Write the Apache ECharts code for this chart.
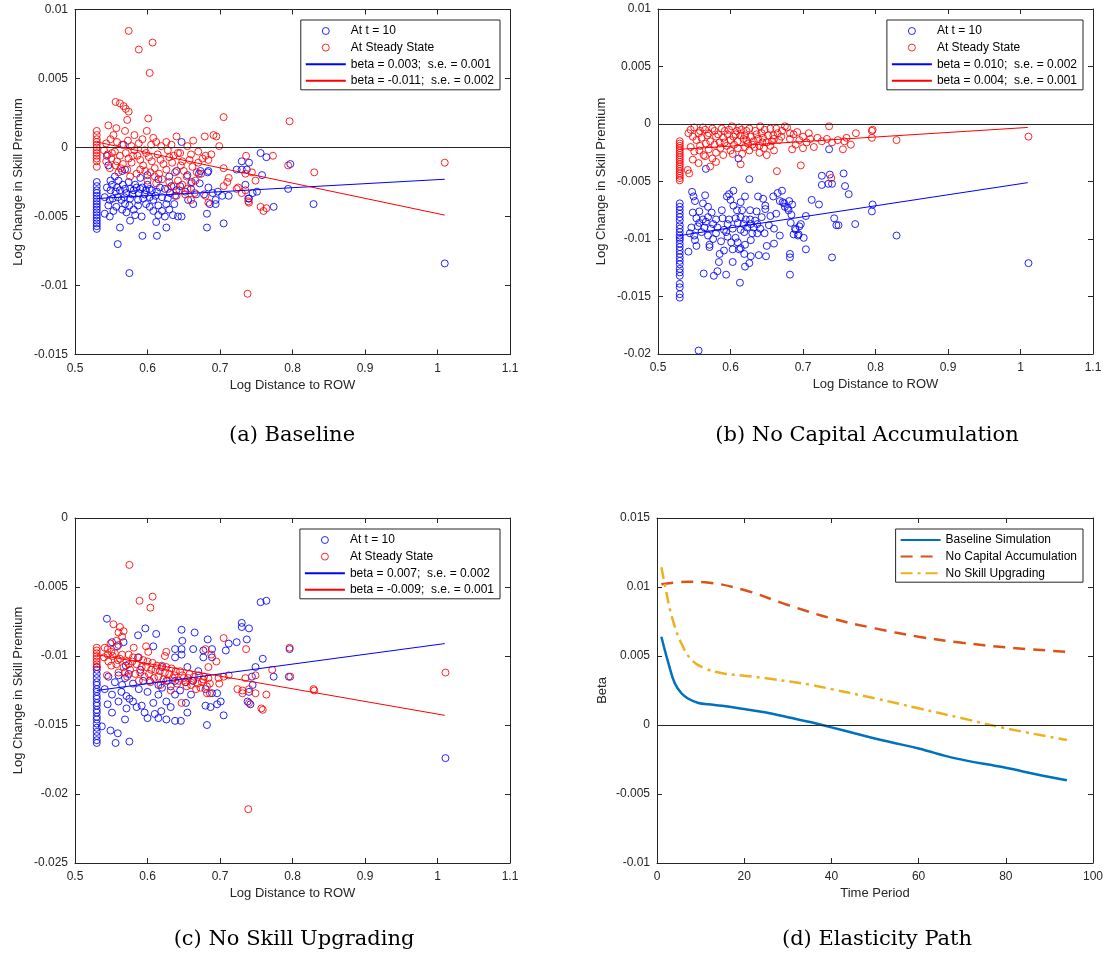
<!DOCTYPE html>
<html>
<head>
<meta charset="utf-8">
<script src="https://cdn.jsdelivr.net/npm/echarts@6/dist/echarts.min.js"></script>
<style>
  html, body { margin: 0; padding: 0; background: #fff; }
  #chart { width: 1108px; height: 961px; }
</style>
</head>
<body>
<div id="chart"></div>
<script>
// ---- data: [log distance, log change] ----
const baseT10 = [
  [0.53,-0.0025],[0.53,-0.0028],[0.53,-0.0031],[0.53,-0.0033],[0.53,-0.0035],[0.53,-0.0037],[0.53,-0.0039],[0.53,-0.0041],
  [0.53,-0.0043],[0.53,-0.0045],[0.53,-0.0047],[0.53,-0.0049],[0.53,-0.0051],[0.53,-0.0053],[0.53,-0.0055],[0.53,-0.0057],[0.53,-0.0059],
  [0.567,0.0002],[0.544,-0.0006],[0.546,-0.0013],[0.569,-0.0016],[0.565,-0.0017],[0.555,-0.0021],[0.549,-0.0024],[0.560,-0.0024],
  [0.544,-0.0029],[0.549,-0.0031],[0.556,-0.0032],[0.562,-0.0031],[0.569,-0.003],[0.574,-0.0025],[0.576,-0.003],[0.581,-0.0031],
  [0.585,-0.0029],[0.590,-0.003],[0.593,-0.0029],[0.598,-0.0031],[0.603,-0.003],[0.606,-0.0031],[0.613,-0.0032],
  [0.541,-0.0036],[0.548,-0.0038],[0.552,-0.0037],[0.559,-0.0036],[0.564,-0.0038],[0.568,-0.0036],[0.576,-0.0037],[0.587,-0.0038],
  [0.594,-0.0037],[0.603,-0.0036],[0.611,-0.0035],
  [0.546,-0.0042],[0.557,-0.0043],[0.569,-0.0041],[0.575,-0.0042],[0.587,-0.0042],[0.603,-0.0043],[0.615,-0.0042],[0.626,-0.0041],[0.637,-0.0041],
  [0.541,-0.0048],[0.548,-0.005],[0.571,-0.0047],[0.583,-0.0049],[0.592,-0.005],[0.615,-0.0049],[0.624,-0.005],[0.635,-0.0049],[0.642,-0.005],[0.647,-0.005],
  [0.562,-0.0058],[0.576,-0.0053],[0.612,-0.0054],[0.626,-0.0058],[0.593,-0.0064],[0.613,-0.0064],[0.559,-0.007],[0.575,-0.0091],
  [0.624,-0.003],[0.631,-0.0033],[0.638,-0.0035],[0.645,-0.0028],[0.652,-0.0032],[0.660,-0.003],[0.667,-0.0034],
  [0.661,-0.0025],[0.671,-0.0019],[0.683,-0.0018],
  [0.551,-0.0027],[0.558,-0.0029],[0.566,-0.0027],[0.571,-0.0033],[0.579,-0.0034],[0.583,-0.0027],[0.588,-0.0033],[0.596,-0.0034],
  [0.600,-0.0027],[0.608,-0.0038],[0.617,-0.0029],[0.620,-0.0036],[0.628,-0.0037],[0.633,-0.0028],[0.640,-0.0031],[0.598,-0.0041],
  [0.581,-0.0045],[0.565,-0.0045],[0.553,-0.0046],[0.608,-0.0046],[0.620,-0.0046],[0.630,-0.0045],[0.656,-0.0038],[0.663,-0.0041],
  [0.672,-0.0026],[0.678,-0.0034],[0.590,-0.0022],[0.600,-0.002],[0.615,-0.0023],[0.630,-0.0021],[0.640,-0.0017],[0.655,-0.002],
  [0.647,0.0004],[0.756,-0.0004],[0.764,-0.0007],[0.730,-0.001],[0.740,-0.0011],[0.797,-0.0012],[0.723,-0.0016],[0.730,-0.0016],
  [0.737,-0.0016],[0.673,-0.0017],[0.684,-0.0017],[0.758,-0.002],[0.735,-0.0027],[0.745,-0.0033],[0.740,-0.0037],[0.794,-0.003],
  [0.829,-0.0041],[0.774,-0.0043],[0.684,-0.0029],[0.690,-0.0033],[0.697,-0.0032],[0.703,-0.0035],[0.694,-0.0038],[0.686,-0.0041],
  [0.694,-0.0041],[0.682,-0.0048],[0.682,-0.0058],[0.705,-0.0055],[0.712,-0.0035],[0.751,-0.0032],[0.739,-0.0037],[1.01,-0.0084]
];
const baseSteady = [
  [0.574,0.00845],[0.607,0.0076],[0.588,0.0071],[0.603,0.0054],
  [0.556,0.0033],[0.562,0.0032],[0.567,0.003],[0.570,0.0028],[0.574,0.0026],[0.572,0.002],[0.601,0.0021],[0.705,0.0022],[0.796,0.0019],
  [0.53,0.0012],[0.53,0.0009],[0.53,0.0006],[0.53,0.0004],[0.53,0.0002],[0.53,0.0],[0.53,-0.0002],[0.53,-0.0004],
  [0.53,-0.0006],[0.53,-0.0008],[0.53,-0.001],[0.53,-0.0014],
  [0.546,0.0016],[0.557,0.0014],[0.569,0.0012],[0.582,0.0009],[0.599,0.0012],[0.608,0.0007],[0.626,0.0004],[0.663,0.0005],
  [0.679,0.0008],[0.691,0.0009],[0.695,0.0008],[0.699,0.0001],
  [0.543,0.0003],[0.549,0.0006],[0.553,0.0009],[0.558,0.0004],[0.565,0.0002],[0.573,0.0005],[0.578,0.0001],[0.588,0.0003],
  [0.593,0.0006],[0.605,0.0002],[0.612,0.0004],[0.619,0.0001],[0.633,0.0002],[0.640,0.0008],[0.655,0.0001],
  [0.54,-0.0002],[0.545,-0.0005],[0.55,-0.0008],[0.555,-0.0003],[0.558,-0.001],[0.562,-0.0006],[0.566,-0.0012],[0.57,-0.0004],
  [0.574,-0.0008],[0.578,-0.0011],[0.582,-0.0002],[0.586,-0.0006],[0.59,-0.0009],[0.594,-0.0013],[0.598,-0.0004],[0.602,-0.0007],
  [0.606,-0.001],[0.61,-0.0015],[0.614,-0.0005],[0.618,-0.0009],[0.622,-0.0012],[0.626,-0.0016],[0.63,-0.0007],[0.634,-0.0011],
  [0.638,-0.0018],[0.642,-0.0004],[0.646,-0.0013],[0.65,-0.0017],[0.654,-0.0021],[0.658,-0.0009],[0.662,-0.0014],[0.666,-0.0024],
  [0.67,-0.0011],[0.674,-0.0019],
  [0.543,-0.001],[0.551,-0.0004],[0.563,-0.0015],[0.580,-0.0006],[0.590,-0.0016],[0.596,-0.0002],[0.604,-0.0018],[0.616,-0.0019],
  [0.628,-0.0002],[0.636,-0.0006],[0.660,-0.0005],[0.668,-0.0018],[0.676,-0.0008],[0.628,-0.003],[0.640,-0.0035],[0.660,-0.0038],
  [0.548,-0.0015],[0.56,-0.0018],[0.572,-0.0016],[0.585,-0.0019],[0.597,-0.0017],[0.61,-0.0021],[0.62,-0.0023],[0.63,-0.0025],
  [0.636,-0.0028],[0.642,-0.0024],[0.648,-0.0027],[0.655,-0.003],[0.66,-0.0026],[0.665,-0.0033],[0.652,-0.0034],[0.644,-0.0031],
  [0.612,-0.0026],[0.6,-0.0024],[0.576,-0.0021],[0.556,-0.0013],[0.645,-0.0004],[0.648,-0.001],
  [0.67,-0.0003],[0.68,-0.0006],[0.684,-0.0009],[0.688,-0.0005],[0.736,-0.0006],[0.773,-0.0006],[0.794,-0.0013],[0.83,-0.0018],
  [1.01,-0.0011],[0.705,-0.0015],[0.712,-0.0022],[0.749,-0.0024],[0.735,-0.0019],[0.744,-0.0018],[0.723,-0.003],[0.735,-0.0031],
  [0.73,-0.0033],[0.68,-0.0035],[0.684,-0.004],[0.74,-0.004],[0.756,-0.0043],[0.76,-0.0046],[0.764,-0.0044],[0.739,-0.0039],
  [0.705,-0.0028],[0.725,-0.0029],[0.71,-0.0025],[0.738,-0.0106]
];
const baseFitT10 = [[0.53,-0.0037],[1.01,-0.0023]];
const baseFitSteady = [[0.53,0.0004],[1.01,-0.0049]];

const noCapT10 = [
  [0.53,-0.0069],[0.53,-0.0072],[0.53,-0.0075],[0.53,-0.0078],[0.53,-0.0081],[0.53,-0.0084],[0.53,-0.0088],[0.53,-0.0091],
  [0.53,-0.0094],[0.53,-0.0097],[0.53,-0.0099],[0.53,-0.0101],[0.53,-0.0104],[0.53,-0.0107],[0.53,-0.011],[0.53,-0.0113],
  [0.53,-0.0116],[0.53,-0.0119],[0.53,-0.0122],[0.53,-0.0126],[0.53,-0.0129],[0.53,-0.0132],[0.53,-0.0139],[0.53,-0.0142],
  [0.53,-0.0148],[0.53,-0.0151],
  [0.604,-0.0058],[0.566,-0.0039],[0.611,-0.003],[0.626,-0.0048],[0.547,-0.0059],[0.549,-0.0063],[0.551,-0.0067],[0.565,-0.0062],
  [0.595,-0.0063],[0.598,-0.0061],[0.562,-0.0069],[0.569,-0.0072],[0.557,-0.0076],[0.548,-0.0077],[0.574,-0.0077],[0.588,-0.0075],
  [0.604,-0.0071],[0.609,-0.0075],[0.616,-0.0075],[0.638,-0.0063],[0.645,-0.0065],[0.659,-0.0063],[0.665,-0.006],[0.671,-0.0058],
  [0.672,-0.0068],[0.675,-0.0072],[0.68,-0.0075],[0.685,-0.007],[0.627,-0.0075],[0.636,-0.0076],[0.648,-0.0074],[0.643,-0.0081],
  [0.634,-0.0084],[0.627,-0.0083],[0.648,-0.0071],
  [0.553,-0.0082],[0.562,-0.0083],[0.569,-0.0081],[0.580,-0.0083],[0.589,-0.0082],[0.598,-0.0083],[0.607,-0.0082],[0.614,-0.0081],[0.621,-0.0083],
  [0.546,-0.009],[0.555,-0.0089],[0.564,-0.009],[0.573,-0.0091],[0.582,-0.009],[0.591,-0.0092],[0.603,-0.0091],[0.614,-0.0092],
  [0.623,-0.009],[0.632,-0.009],[0.641,-0.0091],
  [0.544,-0.0095],[0.560,-0.0094],[0.569,-0.0097],[0.580,-0.0095],[0.594,-0.0094],[0.607,-0.0099],[0.619,-0.0094],[0.630,-0.0095],[0.637,-0.0095],
  [0.551,-0.0101],[0.571,-0.0107],[0.587,-0.0102],[0.601,-0.0103],[0.614,-0.0108],[0.628,-0.0101],[0.647,-0.0095],[0.668,-0.0097],
  [0.689,-0.0091],[0.693,-0.0097],[0.701,-0.0099],
  [0.542,-0.0111],[0.553,-0.0106],[0.571,-0.0105],[0.591,-0.011],[0.603,-0.0109],[0.612,-0.0109],[0.619,-0.0113],[0.628,-0.0115],
  [0.639,-0.0114],[0.649,-0.0115],[0.682,-0.0113],[0.584,-0.012],[0.603,-0.012],[0.626,-0.0121],
  [0.557,-0.0086],[0.566,-0.0085],[0.576,-0.0087],[0.596,-0.0087],[0.610,-0.0086],[0.618,-0.0087],[0.628,-0.0087],[0.637,-0.0087],
  [0.653,-0.0088],[0.660,-0.0091],[0.550,-0.0097],[0.576,-0.01],[0.596,-0.0098],[0.610,-0.0103],[0.620,-0.0105],[0.650,-0.0106],
  [0.660,-0.0104],[0.585,-0.0113],[0.620,-0.0124],[0.600,-0.0066],[0.614,-0.0068],[0.620,-0.0063],[0.655,-0.008],[0.663,-0.0078],
  [0.563,-0.013],[0.582,-0.0128],[0.577,-0.0132],[0.594,-0.0131],[0.682,-0.0131],[0.613,-0.0138],[0.556,-0.0197],
  [0.726,-0.0045],[0.737,-0.0044],[0.735,-0.0052],[0.726,-0.0053],[0.740,-0.0052],[0.756,-0.0043],[0.758,-0.0054],[0.763,-0.0061],
  [0.712,-0.0066],[0.722,-0.007],[0.704,-0.008],[0.743,-0.0082],[0.746,-0.0088],[0.749,-0.0088],[0.772,-0.0087],[0.795,-0.0076],
  [0.796,-0.007],[0.704,-0.0109],[0.74,-0.0116],[0.682,-0.0116],
  [0.69,-0.0092],[0.695,-0.0089],[0.697,-0.0087],[0.694,-0.0096],[0.687,-0.0096],[0.683,-0.0086],[0.684,-0.0079],
  [0.668,-0.0067],[0.674,-0.0069],[0.679,-0.0073],[0.681,-0.0067],[0.736,-0.0022],[0.829,-0.0097],[1.011,-0.0121]
];
const noCapSteady = [
  [0.53,-0.0015],[0.53,-0.0017],[0.53,-0.0019],[0.53,-0.0021],[0.53,-0.0023],[0.53,-0.0025],[0.53,-0.0027],[0.53,-0.0029],
  [0.53,-0.0031],[0.53,-0.0033],[0.53,-0.0035],[0.53,-0.0037],[0.53,-0.0039],[0.53,-0.0041],[0.53,-0.0043],[0.53,-0.0045],
  [0.53,-0.0047],[0.53,-0.0049],
  [0.542,-0.0008],[0.556,-0.0008],[0.565,-0.0005],[0.578,-0.0006],[0.592,-0.0006],[0.602,-0.0002],[0.609,-0.0006],[0.615,-0.0005],
  [0.622,-0.0006],[0.641,-0.0002],[0.647,-0.0005],[0.659,-0.001],[0.671,-0.0006],[0.675,-0.0002],[0.682,-0.0008],[0.736,-0.0002],
  [0.773,-0.0008],[0.796,-0.0005],
  [0.548,-0.0011],[0.553,-0.0014],[0.56,-0.0012],[0.568,-0.001],[0.572,-0.0015],[0.58,-0.0011],[0.585,-0.0016],[0.59,-0.0012],
  [0.596,-0.0009],[0.6,-0.0014],[0.604,-0.0011],[0.61,-0.0015],[0.614,-0.001],[0.618,-0.0013],[0.624,-0.0017],[0.628,-0.0011],
  [0.632,-0.0015],[0.636,-0.0009],[0.64,-0.0019],[0.645,-0.0012],[0.65,-0.0016],[0.655,-0.0004],[0.66,-0.0013],[0.665,-0.0008],[0.67,-0.0011],
  [0.545,-0.0005],[0.550,-0.0003],[0.558,-0.0006],[0.562,-0.0003],[0.570,-0.0008],[0.575,-0.0004],[0.583,-0.0009],[0.588,-0.0004],
  [0.598,-0.0005],[0.607,-0.0009],[0.612,-0.0003],[0.620,-0.001],[0.626,-0.0004],[0.634,-0.0006],[0.638,-0.0013],[0.643,-0.0008],
  [0.652,-0.001],[0.657,-0.0015],[0.663,-0.0004],[0.667,-0.0014],[0.678,-0.0003],[0.687,-0.0009],[0.692,-0.0007],[0.700,-0.0011],
  [0.708,-0.0008],[0.557,-0.0023],[0.566,-0.0017],[0.578,-0.0018],[0.592,-0.0016],[0.603,-0.0026],[0.622,-0.0014],[0.630,-0.0018],
  [0.644,-0.0016],[0.655,-0.0019],[0.660,-0.0023],[0.548,-0.0031],[0.565,-0.0028],
  [0.545,-0.002],[0.55,-0.0024],[0.558,-0.0019],[0.563,-0.0027],[0.57,-0.0022],[0.575,-0.003],[0.58,-0.0025],[0.586,-0.0021],
  [0.59,-0.0027],[0.595,-0.0019],[0.6,-0.0023],[0.605,-0.0018],[0.61,-0.0021],[0.616,-0.0026],[0.62,-0.002],[0.626,-0.0023],
  [0.633,-0.002],[0.64,-0.0025],[0.646,-0.0021],[0.65,-0.0027],
  [0.541,-0.004],[0.543,-0.0043],[0.556,-0.0034],[0.572,-0.0037],[0.58,-0.0033],[0.614,-0.0035],[0.664,-0.0041],[0.697,-0.0036],[0.739,-0.0047],
  [0.682,-0.0013],[0.69,-0.0018],[0.695,-0.0014],[0.7,-0.0021],[0.705,-0.0016],[0.71,-0.0013],[0.715,-0.002],[0.685,-0.0022],
  [0.72,-0.0012],[0.726,-0.0015],[0.733,-0.0013],[0.74,-0.0016],[0.748,-0.0014],[0.755,-0.0022],[0.76,-0.0012],[0.766,-0.0018],
  [0.757,-0.0015],[0.795,-0.0006],[0.795,-0.0012],[0.829,-0.0014],[1.011,-0.0011]
];
const noCapFitT10 = [[0.53,-0.0097],[1.01,-0.0051]];
const noCapFitSteady = [[0.53,-0.0022],[1.01,-0.0003]];

const noSkillT10 = [
  [0.53,-0.0108],[0.53,-0.011],[0.53,-0.0113],[0.53,-0.0116],[0.53,-0.0119],[0.53,-0.0121],[0.53,-0.0124],[0.53,-0.0126],
  [0.53,-0.0129],[0.53,-0.0131],[0.53,-0.0134],[0.53,-0.0136],[0.53,-0.0139],[0.53,-0.0141],[0.53,-0.0144],[0.53,-0.0146],
  [0.53,-0.0149],[0.53,-0.0152],[0.53,-0.0155],[0.53,-0.0158],[0.53,-0.0161],[0.53,-0.0163],
  [0.544,-0.0073],[0.597,-0.008],[0.612,-0.0084],[0.587,-0.0085],[0.647,-0.0081],[0.665,-0.0083],[0.648,-0.0089],[0.608,-0.0093],
  [0.551,-0.009],[0.558,-0.0093],[0.567,-0.009],[0.638,-0.0095],[0.647,-0.0095],[0.663,-0.0095],[0.677,-0.0096],
  [0.587,-0.0101],[0.638,-0.0101],[0.647,-0.0099],
  [0.546,-0.0115],[0.560,-0.0114],[0.569,-0.0116],[0.574,-0.0113],[0.594,-0.0118],[0.603,-0.0118],[0.615,-0.0121],[0.626,-0.0118],
  [0.638,-0.0118],[0.653,-0.0119],[0.663,-0.0118],
  [0.555,-0.0119],[0.565,-0.0121],[0.580,-0.012],[0.588,-0.0124],[0.600,-0.0126],[0.620,-0.0123],[0.632,-0.0122],[0.645,-0.0125],
  [0.660,-0.0128],[0.545,-0.0135],[0.560,-0.0133],[0.575,-0.0131],[0.600,-0.0145],[0.632,-0.0137],[0.655,-0.0141],[0.570,-0.0107],
  [0.590,-0.011],[0.620,-0.0108],[0.655,-0.0108],[0.670,-0.0111],
  [0.541,-0.0124],[0.551,-0.0128],[0.564,-0.0126],[0.571,-0.0129],[0.580,-0.0133],[0.592,-0.0136],[0.608,-0.0134],[0.615,-0.0128],
  [0.626,-0.0133],[0.638,-0.0128],[0.653,-0.0134],
  [0.551,-0.0141],[0.571,-0.0138],[0.585,-0.0137],[0.596,-0.0141],[0.610,-0.0142],[0.619,-0.014],[0.626,-0.0146],[0.638,-0.0147],
  [0.615,-0.0145],[0.646,-0.0147],[0.569,-0.0146],[0.549,-0.0154],[0.559,-0.0156],[0.537,-0.0151],[0.556,-0.0163],[0.575,-0.0162],
  [0.756,-0.0061],[0.764,-0.006],[0.73,-0.0076],[0.73,-0.0079],[0.74,-0.008],[0.737,-0.0088],[0.723,-0.009],[0.712,-0.0091],
  [0.683,-0.0088],[0.796,-0.0095],[0.708,-0.0096],[0.689,-0.0095],[0.677,-0.0101],[0.689,-0.0101],[0.759,-0.0102],[0.749,-0.0108],
  [0.774,-0.0115],[0.795,-0.0115],[0.744,-0.0115],[0.745,-0.0121],[0.74,-0.0126],[0.738,-0.0133],[0.742,-0.0135],[0.680,-0.0124],
  [0.689,-0.0127],[0.696,-0.0127],[0.701,-0.0133],[0.68,-0.0136],[0.687,-0.0137],[0.696,-0.0135],[0.705,-0.0143],[0.682,-0.015],
  [1.011,-0.0174]
];
const noSkillSteady = [
  [0.53,-0.0094],[0.53,-0.0096],[0.53,-0.0098],[0.53,-0.01],[0.53,-0.0102],[0.53,-0.0104],[0.53,-0.0106],[0.53,-0.0108],
  [0.575,-0.0034],[0.589,-0.006],[0.607,-0.0057],[0.604,-0.0065],[0.553,-0.0077],[0.562,-0.0079],[0.560,-0.0083],[0.567,-0.0082],
  [0.565,-0.0086],[0.557,-0.0089],[0.560,-0.0092],[0.549,-0.0091],[0.598,-0.0093],[0.601,-0.0097],[0.581,-0.0094],[0.574,-0.0099],
  [0.626,-0.0097],[0.624,-0.01],[0.545,-0.0095],[0.550,-0.0097],[0.541,-0.0094],
  [0.54,-0.0101],[0.546,-0.0104],[0.552,-0.01],[0.557,-0.0106],[0.562,-0.0102],[0.567,-0.0108],[0.571,-0.0104],[0.576,-0.011],
  [0.58,-0.0101],[0.585,-0.0106],[0.59,-0.0112],[0.594,-0.0103],[0.598,-0.0108],[0.602,-0.0113],[0.607,-0.0105],[0.611,-0.011],
  [0.615,-0.0115],[0.62,-0.0107],[0.624,-0.0112],[0.628,-0.0118],[0.633,-0.0109],[0.637,-0.0114],[0.641,-0.012],[0.645,-0.0111],
  [0.65,-0.0116],[0.654,-0.0122],[0.658,-0.0113],[0.662,-0.0118],[0.667,-0.0124],[0.671,-0.0114],[0.675,-0.0119],
  [0.545,-0.0099],[0.550,-0.0107],[0.555,-0.0098],[0.559,-0.0103],[0.565,-0.0099],[0.569,-0.0112],[0.574,-0.0106],[0.579,-0.0104],
  [0.583,-0.0113],[0.588,-0.0101],[0.592,-0.0108],[0.596,-0.0115],[0.600,-0.0104],[0.605,-0.011],[0.609,-0.0116],[0.613,-0.0107],
  [0.617,-0.0111],[0.622,-0.0117],[0.626,-0.0108],[0.630,-0.0113],[0.635,-0.0116],[0.639,-0.0111],[0.643,-0.0118],[0.648,-0.0114],
  [0.652,-0.0119],[0.656,-0.0116],[0.660,-0.0121],[0.664,-0.0115],[0.669,-0.012],[0.673,-0.0123],[0.677,-0.0117],
  [0.588,-0.0118],[0.604,-0.0119],[0.618,-0.0121],[0.632,-0.0125],[0.647,-0.0134],[0.544,-0.0114],[0.56,-0.0112],[0.572,-0.0115],
  [0.705,-0.0087],[0.736,-0.0095],[0.796,-0.0094],[0.68,-0.0095],[0.688,-0.0099],[0.695,-0.0104],[0.684,-0.0108],[0.772,-0.011],
  [0.749,-0.0114],[0.735,-0.0116],[0.712,-0.0114],[0.705,-0.0115],[0.698,-0.0116],[0.684,-0.0116],[0.678,-0.0115],[0.724,-0.0124],
  [0.731,-0.0125],[0.74,-0.0124],[0.749,-0.0127],[0.764,-0.0128],[0.731,-0.0127],[0.74,-0.0134],[0.757,-0.0138],[0.759,-0.0139],
  [0.829,-0.0124],[0.682,-0.0122],[0.682,-0.0127],[0.686,-0.0127],[0.699,-0.012],[0.686,-0.012],[0.739,-0.0211],[1.011,-0.0112],
  [0.83,-0.0125],[0.797,-0.0115]
];
const noSkillFitT10 = [[0.53,-0.0125],[1.01,-0.0091]];
const noSkillFitSteady = [[0.53,-0.0099],[1.01,-0.0143]];

// elasticity path: [time period, beta]
const pathBaseline = [
  [1,0.0064],[2.6,0.0045],[4.1,0.003],[5.6,0.0023],[7.2,0.0019],[9.5,0.0016],[11.8,0.0015],[14.9,0.0014],[20,0.00116],
  [24.7,0.00092],[30,0.00056],[35.4,0.0002],[40,-0.00017],[45.3,-0.0006],[53,-0.0012],[60,-0.0017],[68.2,-0.0024],
  [80,-0.0031],[87.4,-0.0036],[94,-0.004]
];
const pathNoCapital = [
  [1,0.0102],[7.2,0.01038],[11,0.01034],[20,0.00978],[30,0.0087],[40,0.00773],[50,0.007],[60,0.0064],[70,0.00596],
  [80,0.00563],[94,0.0053]
];
const pathNoSkill = [
  [1,0.01143],[1.9,0.01],[3.4,0.00785],[5.6,0.0059],[8,0.0047],[11,0.0041],[15,0.00375],[20,0.00357],[26.3,0.00333],
  [35.4,0.0029],[40,0.0026],[50,0.00193],[60,0.00121],[70,0.00049],[80,-0.00024],[94,-0.00109]
];

const scatterNames = ['At t = 10', 'At Steady State'];
const fitLabels = {
  base: ['beta = 0.003;  s.e. = 0.001', 'beta = -0.011;  s.e. = 0.002'],
  noCap: ['beta = 0.010;  s.e. = 0.002', 'beta = 0.004;  s.e. = 0.001'],
  noSkill: ['beta = 0.007;  s.e. = 0.002', 'beta = -0.009;  s.e. = 0.001']
};
const pathNames = ['Baseline Simulation', 'No Capital Accumulation', 'No Skill Upgrading'];

const COLORS = {
  AXIS: '#262626',
  BLUE: '#0000ff',
  RED: '#ff0000',
  M_BLUE: '#0072BD',
  M_ORANGE: '#D95319',
  M_YELLOW: '#EDB120'
};
const FONT = 'Liberation Sans, Arial, sans-serif';
const SERIF = 'DejaVu Serif, serif';

const fmt = v => String(parseFloat(v.toFixed(4)));

// grid boxes in pixels
const grids = [
  { left: 75, top: 9.5, width: 435, height: 345 },
  { left: 658, top: 9, width: 435, height: 345 },
  { left: 75, top: 518, width: 435, height: 345 },
  { left: 657, top: 518, width: 436, height: 345 }
];

const xAxes = [];
const yAxes = [];

function addAxes(gi, xr, yr, xName, yName, yGap) {
  const line = { show: true, onZero: false, lineStyle: { color: COLORS.AXIS, width: 1 } };
  const tick = { show: true, inside: true, length: 5, lineStyle: { color: COLORS.AXIS } };
  const label = { formatter: fmt, color: COLORS.AXIS, fontFamily: FONT, fontSize: 12 };
  const nameStyle = { color: COLORS.AXIS, fontFamily: FONT, fontSize: 13 };
  xAxes.push({
    gridIndex: gi, type: 'value', position: 'bottom', min: xr[0], max: xr[1], interval: xr[2],
    axisLine: line, axisTick: tick, axisLabel: Object.assign({ margin: 8 }, label),
    splitLine: { show: false },
    name: xName, nameLocation: 'middle', nameGap: 24, nameTextStyle: nameStyle
  });
  xAxes.push({
    gridIndex: gi, type: 'value', position: 'top', min: xr[0], max: xr[1], interval: xr[2],
    axisLine: line, axisTick: tick, axisLabel: { show: false }, splitLine: { show: false }
  });
  yAxes.push({
    gridIndex: gi, type: 'value', position: 'left', min: yr[0], max: yr[1], interval: yr[2],
    axisLine: line, axisTick: tick, axisLabel: Object.assign({ margin: 7 }, label),
    splitLine: { show: false },
    name: yName, nameLocation: 'middle', nameGap: yGap, nameTextStyle: nameStyle
  });
  yAxes.push({
    gridIndex: gi, type: 'value', position: 'right', min: yr[0], max: yr[1], interval: yr[2],
    axisLine: line, axisTick: tick, axisLabel: { show: false }, splitLine: { show: false }
  });
}

const zeroLine = {
  silent: true, symbol: 'none', label: { show: false },
  lineStyle: { color: COLORS.AXIS, width: 1, type: 'solid' },
  data: [{ yAxis: 0 }]
};

function scatterPanel(gi, t10, steady, fitT10, fitSteady, labels) {
  const ax = { xAxisIndex: gi * 2, yAxisIndex: gi * 2 };
  const dot = color => ({
    type: 'scatter', symbol: 'circle', symbolSize: 7,
    itemStyle: { color: 'rgba(0,0,0,0)', borderColor: color, borderWidth: 1, opacity: 0.85 }
  });
  return [
    Object.assign({ name: scatterNames[0], data: t10, markLine: zeroLine }, dot(COLORS.BLUE), ax),
    Object.assign({ name: scatterNames[1], data: steady }, dot(COLORS.RED), ax),
    Object.assign({ name: labels[0], type: 'line', data: fitT10, symbol: 'none', z: 5,
      lineStyle: { color: COLORS.BLUE, width: 1 }, itemStyle: { color: COLORS.BLUE } }, ax),
    Object.assign({ name: labels[1], type: 'line', data: fitSteady, symbol: 'none', z: 5,
      lineStyle: { color: COLORS.RED, width: 1 }, itemStyle: { color: COLORS.RED } }, ax)
  ];
}

// circles for the scatter entries, bare lines for the rest
function legendBox(names, right, top, circles) {
  return {
    orient: 'vertical', right: right, top: top,
    data: names.map((n, i) => (circles && i < 2)
      ? { name: n, icon: 'circle', itemStyle: { color: 'rgba(0,0,0,0)', borderColor: i ? COLORS.RED : COLORS.BLUE, borderWidth: 1 } }
      : { name: n, itemStyle: { opacity: 0 } }),
    itemWidth: 40, itemHeight: 7, itemGap: 2.6,
    padding: [4, 6, 2, 4],
    borderColor: COLORS.AXIS, borderWidth: 1, backgroundColor: '#fff',
    selectedMode: false,
    textStyle: { fontFamily: FONT, fontSize: 12, color: '#000', lineHeight: 14 }
  };
}

addAxes(0, [0.5, 1.1, 0.1], [-0.015, 0.01, 0.005], 'Log Distance to ROW', 'Log Change in Skill Premium', 50);
addAxes(1, [0.5, 1.1, 0.1], [-0.02, 0.01, 0.005], 'Log Distance to ROW', 'Log Change in Skill Premium', 50);
addAxes(2, [0.5, 1.1, 0.1], [-0.025, 0, 0.005], 'Log Distance to ROW', 'Log Change in Skill Premium', 50);
addAxes(3, [0, 100, 20], [-0.01, 0.015, 0.005], 'Time Period', 'Beta', 48);

const series = [].concat(
  scatterPanel(0, baseT10, baseSteady, baseFitT10, baseFitSteady, fitLabels.base),
  scatterPanel(1, noCapT10, noCapSteady, noCapFitT10, noCapFitSteady, fitLabels.noCap),
  scatterPanel(2, noSkillT10, noSkillSteady, noSkillFitT10, noSkillFitSteady, fitLabels.noSkill),
  [
    { name: pathNames[0], type: 'line', xAxisIndex: 6, yAxisIndex: 6, data: pathBaseline, smooth: 0.4,
      symbol: 'none', lineStyle: { color: COLORS.M_BLUE, width: 2.5 }, itemStyle: { color: COLORS.M_BLUE },
      markLine: zeroLine },
    { name: pathNames[1], type: 'line', xAxisIndex: 6, yAxisIndex: 6, data: pathNoCapital, smooth: 0.4,
      symbol: 'none', lineStyle: { color: COLORS.M_ORANGE, width: 2.5, type: [12, 8] }, itemStyle: { color: COLORS.M_ORANGE } },
    { name: pathNames[2], type: 'line', xAxisIndex: 6, yAxisIndex: 6, data: pathNoSkill, smooth: 0.4,
      symbol: 'none', lineStyle: { color: COLORS.M_YELLOW, width: 2.5, type: [12, 5, 3, 5] }, itemStyle: { color: COLORS.M_YELLOW } }
  ]
);

const captions = [
  ['(a) Baseline', 292, 436],
  ['(b) No Capital Accumulation', 867, 436],
  ['(c) No Skill Upgrading', 294, 940],
  ['(d) Elasticity Path', 877, 940]
];

const option = {
  animation: false,
  backgroundColor: '#fff',
  grid: grids,
  xAxis: xAxes,
  yAxis: yAxes,
  legend: [
    legendBox(scatterNames.concat(fitLabels.base), 608, 20, true),
    legendBox(scatterNames.concat(fitLabels.noCap), 25, 20, true),
    legendBox(scatterNames.concat(fitLabels.noSkill), 608, 529, true),
    legendBox(pathNames, 25, 529, false)
  ],
  graphic: captions.map(c => ({
    type: 'text', x: c[1], y: c[2],
    style: { text: c[0], font: '21px ' + SERIF, fill: '#000', textAlign: 'center', textVerticalAlign: 'middle' }
  })),
  series: series
};

const myChart = echarts.init(document.getElementById('chart'), null, { renderer: 'canvas' });
myChart.setOption(option);
</script>
</body>
</html>
